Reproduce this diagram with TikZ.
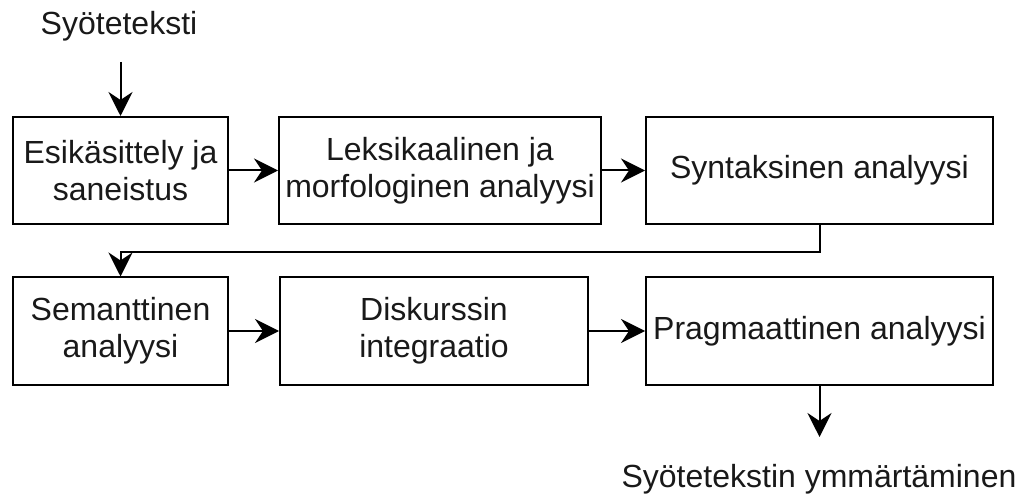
\documentclass[tikz,border=0pt]{standalone}
\usepackage{fontspec}
\setmainfont{Liberation Sans}
\usetikzlibrary{arrows.meta}
\begin{document}
\begin{tikzpicture}[x=1pt,y=-1pt,
  lbl/.style={font=\fontsize{32}{37}\selectfont, text=black!90, inner sep=0pt},
  stage/.style={draw, line width=2pt, rectangle, align=center, inner sep=0pt,
    font=\fontsize{32}{37}\selectfont, text=black!90},
  arr/.style={draw, line width=2pt, -{Stealth[length=24pt,width=24pt,inset=8pt]}}]
\useasboundingbox (0,0) rectangle (1020,494);

% row 1
\node[stage, minimum width=215pt, minimum height=107pt] (b1) at (120.5,170.5) {Esikäsittely ja\\saneistus};
\node[stage, minimum width=322pt, minimum height=107pt] (b2) at (440,170.5) {Leksikaalinen ja\\morfologinen analyysi};
\node[stage, minimum width=347pt, minimum height=107pt] (b3) at (819.5,170.5) {Syntaksinen analyysi};

% row 2
\node[stage, minimum width=215pt, minimum height=107pt] (b4) at (120.5,331) {Semanttinen\\analyysi};
\node[stage, minimum width=308pt, minimum height=107pt] (b5) at (434,331) {Diskurssin\\integraatio};
\node[stage, minimum width=347pt, minimum height=107pt] (b6) at (819.5,331) {Pragmaattinen analyysi};

% input and output labels
\node[lbl, anchor=base] (in) at (119,35) {Syöteteksti};
\node[lbl, anchor=base] (out) at (819,487) {Syötetekstin ymmärtäminen};
\coordinate (c0) at (120.5,62);
\coordinate (c1) at (819.5,437);

% connectors
\draw[arr] (c0) -- (b1.north);
\draw[arr] (b1) -- (b2);
\draw[arr] (b2) -- (b3);
\draw[arr] (b3.south) -- ++(0,27) -| (b4.north);
\draw[arr] (b4) -- (b5);
\draw[arr] (b5) -- (b6);
\draw[arr] (b6.south) -- (c1);
\end{tikzpicture}
\end{document}
